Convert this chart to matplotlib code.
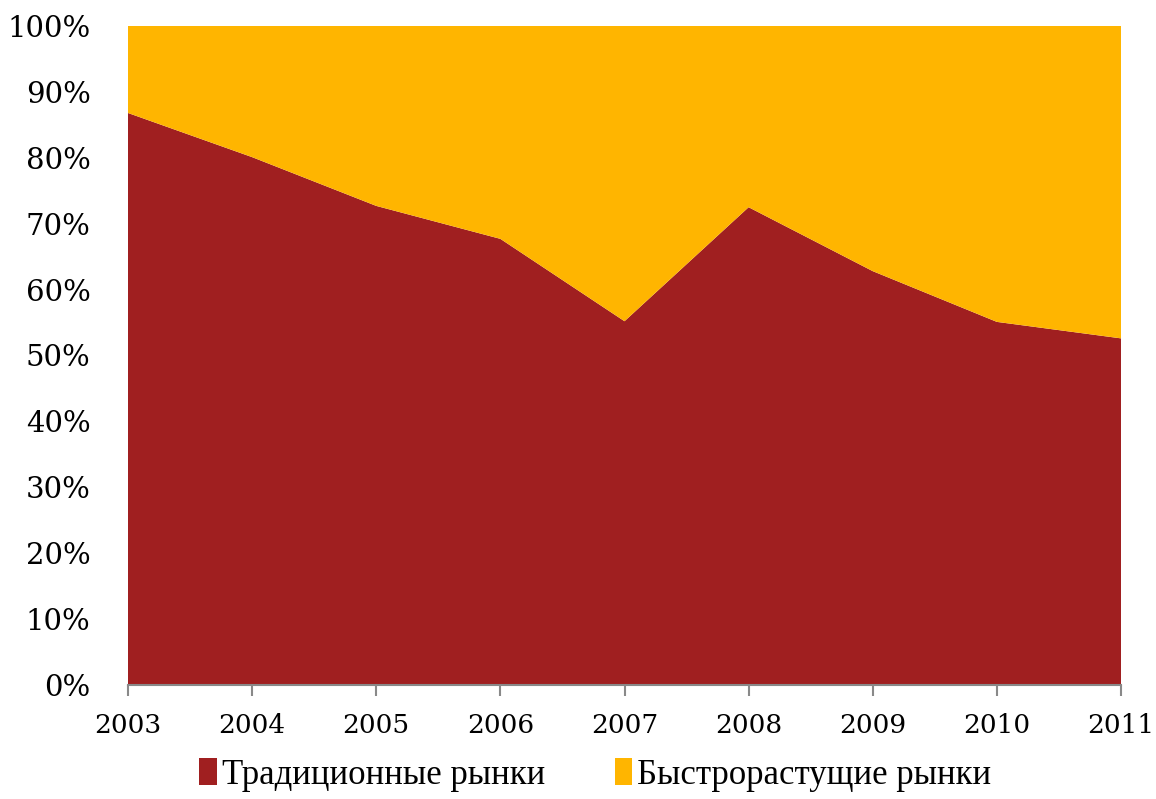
import matplotlib
matplotlib.use("Agg")
import matplotlib.pyplot as plt
from matplotlib.patches import Patch
from matplotlib.ticker import FuncFormatter

years = ["2003", "2004", "2005", "2006", "2007", "2008", "2009", "2010", "2011"]
traditional = [86.8, 80.1, 72.7, 67.7, 55.2, 72.5, 62.8, 55.1, 52.6]
fast_growing = [100 - v for v in traditional]

series_names = ["Традиционные рынки", "Быстрорастущие рынки"]
colors = ["#A01F20", "#FFB500"]

fig = plt.figure(figsize=(11.56, 7.99), dpi=100)
ax = fig.add_axes([128 / 1156, 1 - 685 / 799, (1121 - 128) / 1156, (685 - 26) / 799])

x = list(range(len(years)))
ax.stackplot(x, traditional, fast_growing, colors=colors, linewidth=0)

ax.set_xlim(0, len(years) - 1)
ax.set_ylim(0, 100)
ax.set_yticks(range(0, 101, 10))
ax.yaxis.set_major_formatter(FuncFormatter(lambda v, _: f"{int(v)}%"))
ax.set_xticks(x)
ax.set_xticklabels(years)

for side in ["left", "right", "top"]:
    ax.spines[side].set_visible(False)
ax.spines["bottom"].set_color("#898989")
ax.spines["bottom"].set_linewidth(1.5)

ax.tick_params(axis="y", length=0, pad=27, labelsize=21)
ax.tick_params(axis="x", length=8, width=1.5, color="#898989", pad=12, labelsize=19)
for lbl in ax.get_xticklabels() + ax.get_yticklabels():
    lbl.set_fontfamily("DejaVu Serif")

handles = [Patch(facecolor=c, edgecolor="none") for c in colors]
fig.legend(
    handles,
    series_names,
    loc="lower center",
    bbox_to_anchor=(0.515, -0.03),
    ncol=2,
    frameon=False,
    prop={"family": "Liberation Serif", "size": 25},
    handlelength=0.5,
    handleheight=0.8,
    handletextpad=0.15,
    columnspacing=2.0,
)

plt.savefig("out.png", dpi=100)
plt.close()
